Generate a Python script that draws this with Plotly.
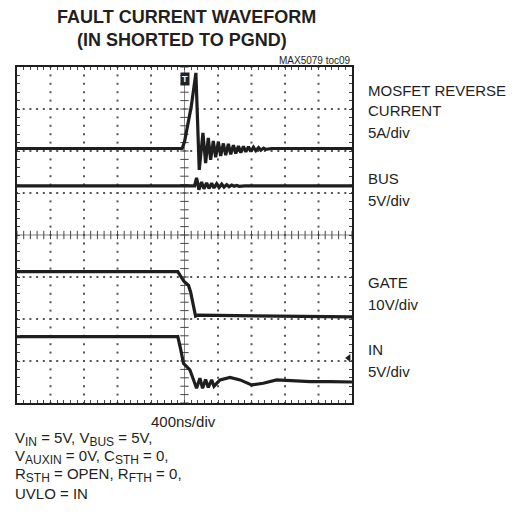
import numpy as np
import plotly.graph_objects as go

# Scope traces, in divisions (x: 0..10 at 400ns/div, y: 0..8)
mosfet_t = [0, 4.93, 5.0, 5.1, 5.2, 5.34, 5.44, 5.55, 5.63, 5.71, 5.78, 5.86, 5.93, 6.01, 6.08,
            6.16, 6.23, 6.31, 6.38, 6.46, 6.53, 6.61, 6.68, 6.76, 6.83, 6.91, 6.98, 7.06, 7.13,
            7.21, 7.28, 7.36, 7.43, 7.6, 10]
mosfet_v = [6.06, 6.06, 6.22, 6.6, 7.05, 7.86, 5.55, 6.43, 5.71, 6.31, 5.79, 6.24, 5.85, 6.22, 5.88,
            6.18, 5.90, 6.17, 5.92, 6.14, 5.94, 6.12, 5.96, 6.11, 5.98, 6.10, 5.99, 6.09, 6.01,
            6.08, 6.02, 6.07, 6.04, 6.06, 6.06]

bus_t = [0, 5.30, 5.36, 5.43, 5.51, 5.58, 5.66, 5.73, 5.81, 5.88, 5.96, 6.03, 6.11, 6.18, 6.26,
         6.33, 6.41, 6.48, 6.56, 6.63, 6.8, 10]
bus_v = [5.17, 5.17, 5.36, 5.08, 5.26, 5.10, 5.24, 5.11, 5.23, 5.12, 5.22, 5.13, 5.21, 5.14, 5.20,
         5.15, 5.19, 5.16, 5.18, 5.16, 5.17, 5.17]

gate_t = [0, 4.80, 4.90, 4.98, 5.12, 5.18, 5.33, 5.40, 10]
gate_v = [3.13, 3.13, 3.0, 2.9, 2.80, 2.65, 2.07, 2.09, 2.05]

in_t = [0, 4.80, 4.88, 4.97, 5.05, 5.16, 5.36, 5.46, 5.54, 5.63, 5.71, 5.81, 5.88, 6.06, 6.36,
        6.66, 7.0, 7.35, 7.75, 8.15, 8.75, 9.34, 10]
in_v = [1.58, 1.58, 1.3, 0.94, 0.88, 0.79, 0.35, 0.59, 0.35, 0.56, 0.37, 0.55, 0.40, 0.55, 0.61,
        0.55, 0.43, 0.47, 0.55, 0.53, 0.51, 0.51, 0.50]

in_ground_level = 1.07
trigger_pos = 5

W, H = 523, 527
L, R, T, B = 17, 352, 67, 403


def paper(x, y):
    return (x - L) / (R - L), (B - y) / (B - T)


fig = go.Figure()

# graticule dots
gx, gy = [], []
for k in range(1, 8):
    if k == 4:
        continue
    for v in np.arange(0, 10.01, 0.2):
        gx.append(v); gy.append(k)
for k in range(1, 10):
    if k == 5:
        continue
    for v in np.arange(0, 8.01, 0.2):
        gx.append(k); gy.append(v)
fig.add_trace(go.Scatter(x=gx, y=gy, mode='markers', hoverinfo='skip',
                         marker=dict(symbol='square', size=2, color='#555')))

# center cross with tick marks
fig.add_trace(go.Scatter(x=[0, 10], y=[4, 4], mode='lines', hoverinfo='skip',
                         line=dict(color='#666', width=0.8)))
fig.add_trace(go.Scatter(x=[5, 5], y=[0, 8], mode='lines', hoverinfo='skip',
                         line=dict(color='#666', width=0.8)))
cx = np.arange(0, 10.01, 0.2)
cy = np.arange(0, 8.01, 0.2)
fig.add_trace(go.Scatter(x=cx, y=[4] * len(cx), mode='markers', hoverinfo='skip',
                         marker=dict(symbol='line-ns', size=6, line=dict(color='#444', width=1))))
fig.add_trace(go.Scatter(x=[5] * len(cy), y=cy, mode='markers', hoverinfo='skip',
                         marker=dict(symbol='line-ew', size=6, line=dict(color='#444', width=1))))

# waveforms
for tt, vv in [(mosfet_t, mosfet_v), (bus_t, bus_v), (gate_t, gate_v), (in_t, in_v)]:
    fig.add_trace(go.Scatter(x=tt, y=vv, mode='lines', line=dict(color='#1e1e1e', width=3.2)))

# ground marker for IN channel
fig.add_trace(go.Scatter(x=[9.9], y=[in_ground_level], mode='markers', hoverinfo='skip',
                         marker=dict(symbol='triangle-left', size=7, color='#1e1e1e')))

font = 'Liberation Sans, Arial, sans-serif'
anns = []


def text(s, x, y, size=15, xanchor='left', bold=False):
    px, py = paper(x, y)
    anns.append(dict(text='<b>' + s + '</b>' if bold else s, x=px, y=py, xref='paper', yref='paper',
                     xanchor=xanchor, yanchor='middle', showarrow=False,
                     font=dict(family=font, size=size, color='#231f20')))


def sub(s):
    return '<sub><span style="font-size:12px">' + s + '</span></sub>'


text('FAULT CURRENT WAVEFORM', 186, 17, size=18, xanchor='center', bold=True)
text('(IN SHORTED TO PGND)', 182, 40, size=18, xanchor='center', bold=True)
text('MAX5079 toc09', 353, 60, size=10, xanchor='right')

text('MOSFET REVERSE', 366, 90)
text('CURRENT', 366, 110)
text('5A/div', 366, 132)
text('BUS', 366, 178)
text('5V/div', 366, 200)
text('GATE', 366, 282)
text('10V/div', 366, 304)
text('IN', 366, 349)
text('5V/div', 366, 371)

text('400ns/div', 183, 421, xanchor='center')
text('V' + sub('IN') + ' = 5V, V' + sub('BUS') + ' = 5V,', 13, 439)
text('V' + sub('AUXIN') + ' = 0V, C' + sub('STH') + ' = 0,', 13, 457)
text('R' + sub('STH') + ' = OPEN, R' + sub('FTH') + ' = 0,', 13, 475)
text('UVLO = IN', 13, 493)

# trigger badge
anns.append(dict(text='<b>T</b>', x=trigger_pos, y=8, xref='x', yref='y', yanchor='top',
                 yshift=-5, showarrow=False, bgcolor='#222', borderpad=1,
                 font=dict(family=font, size=9, color='white')))

axis = dict(showgrid=False, zeroline=False, showline=True, linecolor='#1e1e1e', linewidth=1.6,
            mirror='allticks', ticks='inside', ticklen=3, tickcolor='#444', tick0=0, dtick=0.2,
            showticklabels=False, fixedrange=True)
fig.update_layout(
    width=W, height=H, showlegend=False,
    margin=dict(l=L, r=W - R, t=T, b=H - B),
    paper_bgcolor='white', plot_bgcolor='white',
    xaxis=dict(axis, range=[0, 10]),
    yaxis=dict(axis, range=[0, 8]),
    annotations=anns,
)

fig.write_html("out.html", config={'displayModeBar': False},
               post_script="document.body.style.margin='0px';")
